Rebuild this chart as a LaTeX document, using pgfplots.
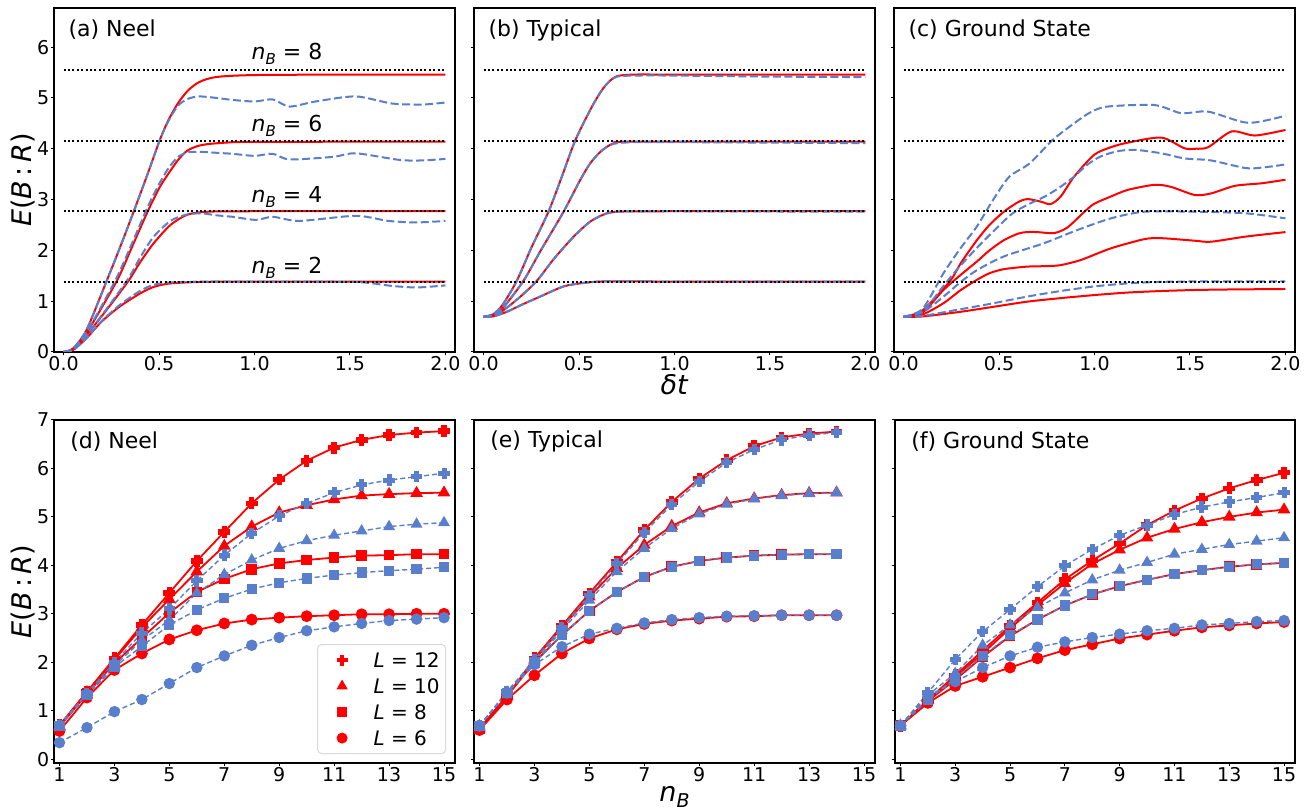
\documentclass[border=0pt]{standalone}
\usepackage{fontspec}
\setmainfont{DejaVu Sans}
\usepackage{pgfplots}
\usepackage{pgfplotstable}
\pgfplotsset{compat=1.18}
\definecolor{bl}{RGB}{88,126,204}
\definecolor{rd}{RGB}{255,0,0}

\pgfdeclareplotmark{fatplus}{%
  \pgfpathmoveto{\pgfpoint{-0.36\pgfplotmarksize}{\pgfplotmarksize}}%
  \pgfpathlineto{\pgfpoint{0.36\pgfplotmarksize}{\pgfplotmarksize}}%
  \pgfpathlineto{\pgfpoint{0.36\pgfplotmarksize}{0.36\pgfplotmarksize}}%
  \pgfpathlineto{\pgfpoint{\pgfplotmarksize}{0.36\pgfplotmarksize}}%
  \pgfpathlineto{\pgfpoint{\pgfplotmarksize}{-0.36\pgfplotmarksize}}%
  \pgfpathlineto{\pgfpoint{0.36\pgfplotmarksize}{-0.36\pgfplotmarksize}}%
  \pgfpathlineto{\pgfpoint{0.36\pgfplotmarksize}{-\pgfplotmarksize}}%
  \pgfpathlineto{\pgfpoint{-0.36\pgfplotmarksize}{-\pgfplotmarksize}}%
  \pgfpathlineto{\pgfpoint{-0.36\pgfplotmarksize}{-0.36\pgfplotmarksize}}%
  \pgfpathlineto{\pgfpoint{-\pgfplotmarksize}{-0.36\pgfplotmarksize}}%
  \pgfpathlineto{\pgfpoint{-\pgfplotmarksize}{0.36\pgfplotmarksize}}%
  \pgfpathlineto{\pgfpoint{-0.36\pgfplotmarksize}{0.36\pgfplotmarksize}}%
  \pgfpathclose
  \pgfusepathqfillstroke
}

% bottom-panel data: x, red L=12,10,8,6, blue L=12,10,8,6
\pgfplotstableread{
x R12 R10 R8 R6 B12 B10 B8 B6
1 0.70 0.68 0.67 0.58 0.70 0.69 0.68 0.34
2 1.39 1.38 1.35 1.27 1.36 1.33 1.32 0.65
3 2.08 2.05 1.98 1.84 2.00 1.93 1.90 0.98
4 2.77 2.72 2.50 2.18 2.60 2.45 2.33 1.23
5 3.43 3.30 3.02 2.47 3.10 2.87 2.77 1.56
6 4.09 3.87 3.45 2.66 3.68 3.43 3.08 1.89
7 4.69 4.40 3.72 2.80 4.21 3.81 3.32 2.13
8 5.28 4.80 3.92 2.88 4.66 4.11 3.51 2.35
9 5.77 5.09 4.04 2.92 5.02 4.35 3.64 2.51
10 6.16 5.24 4.11 2.95 5.28 4.51 3.73 2.65
11 6.43 5.36 4.16 2.97 5.50 4.62 3.80 2.73
12 6.59 5.44 4.20 2.99 5.66 4.71 3.85 2.80
13 6.69 5.47 4.21 2.99 5.76 4.80 3.89 2.86
14 6.74 5.49 4.23 3.00 5.83 4.85 3.92 2.89
15 6.77 5.50 4.23 3.00 5.90 4.88 3.96 2.92
}\tabD
\pgfplotstableread{
x R12 R10 R8 R6 B12 B10 B8 B6
1 0.63 0.63 0.63 0.60 0.69 0.69 0.69 0.68
2 1.29 1.30 1.30 1.23 1.39 1.38 1.37 1.36
3 2.08 2.05 2.00 1.73 2.05 2.00 1.98 1.95
4 2.75 2.72 2.56 2.18 2.72 2.66 2.56 2.32
5 3.42 3.35 3.06 2.49 3.38 3.28 3.06 2.58
6 4.07 3.94 3.45 2.68 4.03 3.87 3.45 2.70
7 4.73 4.42 3.76 2.79 4.68 4.35 3.76 2.81
8 5.31 4.81 3.97 2.86 5.25 4.76 3.97 2.88
9 5.79 5.09 4.09 2.90 5.73 5.06 4.09 2.92
10 6.17 5.28 4.16 2.94 6.12 5.26 4.16 2.95
11 6.46 5.38 4.20 2.95 6.39 5.37 4.20 2.96
12 6.64 5.45 4.22 2.97 6.59 5.44 4.22 2.97
13 6.72 5.49 4.23 2.97 6.69 5.48 4.23 2.97
14 6.76 5.50 4.23 2.97 6.74 5.50 4.23 2.97
}\tabE
\pgfplotstableread{
x R12 R10 R8 R6 B12 B10 B8 B6
1 0.69 0.69 0.69 0.69 0.69 0.69 0.69 0.69
2 1.22 1.22 1.20 1.16 1.37 1.32 1.22 1.30
3 1.73 1.70 1.64 1.51 2.06 1.77 1.67 1.60
4 2.24 2.18 2.11 1.70 2.63 2.35 2.13 1.89
5 2.75 2.70 2.54 1.89 3.09 2.77 2.56 2.13
6 3.23 3.18 2.88 2.08 3.56 3.13 2.88 2.31
7 3.71 3.63 3.17 2.25 3.99 3.43 3.17 2.42
8 4.10 4.03 3.40 2.37 4.33 3.70 3.40 2.51
9 4.45 4.32 3.57 2.49 4.62 3.90 3.57 2.58
10 4.83 4.57 3.70 2.57 4.83 4.06 3.70 2.65
11 5.13 4.75 3.82 2.65 5.05 4.23 3.82 2.70
12 5.38 4.89 3.90 2.72 5.20 4.33 3.90 2.77
13 5.59 5.00 3.97 2.76 5.31 4.43 3.97 2.80
14 5.76 5.09 4.02 2.80 5.40 4.50 4.02 2.84
15 5.91 5.15 4.05 2.83 5.50 4.57 4.05 2.86
}\tabF

\pgfplotsset{
  panel/.style={scale only axis, width=401pt, anchor=south west,
    axis line style={line width=2pt}, tick style={black, line width=1pt},
    major tick length=3.5pt, tick align=outside, tick pos=left,
    tick label style={font=\fontsize{19}{19}\selectfont, inner sep=1pt},
    /pgf/number format/assume math mode=true,
    every axis y label/.style={at={(axis description cs:-0.0773,0.5)}, rotate=90, anchor=center, font=\fontsize{27}{27}\selectfont},
    every axis x label/.style={at={(axis description cs:0.5,-0.096)}, anchor=center, font=\fontsize{27}{27}\selectfont}},
  toppanel/.style={panel, height=344pt, xmin=-0.05, xmax=2.05, ymin=0, ymax=6.77,
    xtick={0,0.5,1,1.5,2}, ytick={0,1,2,3,4,5,6},
    xticklabel style={/pgf/number format/fixed, /pgf/number format/fixed zerofill, /pgf/number format/precision=1}},
  botpanel/.style={panel, height=343pt, xmin=0.8, xmax=15.4, ymin=-0.08, ymax=7,
    xtick={1,3,5,7,9,11,13,15}, ytick={0,1,2,3,4,5,6,7}},
  rc/.style={rd, line width=2pt, smooth, tension=0.45},
  bc/.style={bl, line width=2pt, dash pattern=on 8pt off 3.5pt, smooth, tension=0.45},
  dotl/.style={black, line width=2pt, dash pattern=on 2pt off 2.4pt},
  rm/.style={rd, line width=1.8pt, mark size=5pt, mark options={solid, fill=rd}},
  bm/.style={bl, line width=1.4pt, dash pattern=on 5pt off 3pt, mark size=5pt, mark options={solid, fill=bl}},
}
\newcommand{\ttlfont}{\fontsize{22}{22}\selectfont}
\newcommand{\nB}[1]{\textit{n}\raisebox{-0.22em}{\fontsize{15}{15}\selectfont\textit{B}} = #1}

\begin{document}
\begin{tikzpicture}
\useasboundingbox (0,0) rectangle (1309pt,810pt);

% ---------------- (a) Neel ----------------
\begin{axis}[toppanel, at={(54pt,458pt)}, ylabel={\textit{E}(\textit{B}\,:\,\textit{R})}]
\addplot[rc] coordinates {(0,0) (0.05,0.07) (0.12,0.43) (0.226,1.40) (0.30,2.10) (0.367,2.76) (0.44,3.50) (0.504,4.17) (0.55,4.57) (0.60,4.90) (0.65,5.14) (0.70,5.29) (0.75,5.37) (0.82,5.42) (1.0,5.45) (1.5,5.46) (2.0,5.46)};
\addplot[rc] coordinates {(0,0) (0.05,0.06) (0.12,0.37) (0.279,1.40) (0.36,2.08) (0.44,2.76) (0.50,3.22) (0.542,3.47) (0.60,3.78) (0.647,3.96) (0.70,4.05) (0.753,4.09) (0.85,4.12) (1.0,4.135) (2.0,4.14)};
\addplot[rc] coordinates {(0,0) (0.05,0.05) (0.12,0.33) (0.23,0.85) (0.34,1.40) (0.40,1.76) (0.472,2.14) (0.56,2.50) (0.647,2.70) (0.753,2.76) (1.0,2.77) (2.0,2.77)};
\addplot[rc] coordinates {(0,0) (0.05,0.04) (0.12,0.27) (0.20,0.60) (0.296,0.90) (0.40,1.15) (0.472,1.28) (0.56,1.35) (0.735,1.38) (1.0,1.386) (2.0,1.386)};
\addplot[bc] coordinates {(0,0) (0.05,0.07) (0.12,0.43) (0.226,1.40) (0.30,2.10) (0.367,2.76) (0.44,3.50) (0.504,4.17) (0.55,4.55) (0.60,4.85) (0.65,4.98) (0.71,5.03) (0.80,5.00) (0.886,4.96) (1.0,4.93) (1.096,4.97) (1.183,4.83) (1.32,4.93) (1.53,5.03) (1.72,4.89) (1.88,4.87) (2.0,4.91)};
\addplot[bc] coordinates {(0,0) (0.05,0.06) (0.12,0.38) (0.27,1.40) (0.36,2.15) (0.44,2.85) (0.50,3.30) (0.55,3.62) (0.60,3.84) (0.65,3.93) (0.711,3.94) (0.80,3.92) (0.886,3.90) (1.0,3.86) (1.096,3.90) (1.183,3.79) (1.41,3.84) (1.53,3.91) (1.76,3.78) (1.88,3.77) (2.0,3.80)};
\addplot[bc] coordinates {(0,0) (0.05,0.05) (0.12,0.33) (0.23,0.87) (0.34,1.45) (0.40,1.85) (0.47,2.26) (0.56,2.58) (0.64,2.70) (0.72,2.73) (0.80,2.69) (0.886,2.66) (1.008,2.60) (1.096,2.66) (1.235,2.58) (1.53,2.68) (1.70,2.58) (1.85,2.55) (2.0,2.58)};
\addplot[bc] coordinates {(0,0) (0.05,0.04) (0.12,0.27) (0.20,0.61) (0.296,0.93) (0.40,1.20) (0.47,1.32) (0.56,1.37) (0.735,1.385) (1.0,1.386) (1.5,1.38) (1.62,1.35) (1.72,1.30) (1.85,1.27) (2.0,1.31)};
\addplot[dotl] coordinates {(0,5.545) (2,5.545)};
\addplot[dotl] coordinates {(0,4.159) (2,4.159)};
\addplot[dotl] coordinates {(0,2.773) (2,2.773)};
\addplot[dotl] coordinates {(0,1.386) (2,1.386)};
\node[anchor=west, font=\ttlfont] at (axis description cs:0.0274,0.936) {(a) Neel};
\node[font=\ttlfont] at (axis cs:1.17,5.87) {\nB{8}};
\node[font=\ttlfont] at (axis cs:1.17,4.45) {\nB{6}};
\node[font=\ttlfont] at (axis cs:1.17,3.05) {\nB{4}};
\node[font=\ttlfont] at (axis cs:1.17,1.65) {\nB{2}};
\end{axis}

% ---------------- (b) Typical ----------------
\begin{axis}[toppanel, at={(474pt,458pt)}, yticklabels={}, xlabel={\textit{δt}}]
\addplot[rc] coordinates {(0,0.693) (0.05,0.74) (0.10,0.93) (0.174,1.40) (0.25,2.05) (0.34,2.76) (0.41,3.45) (0.481,4.17) (0.568,4.83) (0.621,5.16) (0.66,5.33) (0.70,5.43) (0.79,5.46) (1.0,5.46) (2.0,5.46)};
\addplot[rc] coordinates {(0,0.693) (0.05,0.73) (0.10,0.86) (0.209,1.40) (0.30,2.0) (0.419,2.76) (0.507,3.39) (0.56,3.72) (0.612,3.94) (0.66,4.07) (0.70,4.12) (0.8,4.14) (2.0,4.14)};
\addplot[rc] coordinates {(0,0.693) (0.05,0.72) (0.10,0.81) (0.19,1.08) (0.279,1.40) (0.37,1.84) (0.472,2.27) (0.56,2.57) (0.647,2.73) (0.735,2.765) (1.0,2.77) (2.0,2.77)};
\addplot[rc] coordinates {(0,0.693) (0.05,0.70) (0.121,0.79) (0.2,0.93) (0.296,1.09) (0.419,1.29) (0.525,1.36) (0.647,1.39) (1.0,1.386) (2.0,1.386)};
\addplot[bc] coordinates {(0,0.693) (0.05,0.74) (0.10,0.93) (0.174,1.40) (0.25,2.05) (0.34,2.76) (0.41,3.45) (0.481,4.17) (0.568,4.83) (0.621,5.16) (0.66,5.33) (0.70,5.42) (0.79,5.44) (1.0,5.44) (1.5,5.42) (2.0,5.41)};
\addplot[bc] coordinates {(0,0.693) (0.05,0.73) (0.10,0.86) (0.209,1.40) (0.30,2.0) (0.419,2.76) (0.507,3.39) (0.56,3.72) (0.612,3.94) (0.66,4.07) (0.70,4.11) (0.8,4.13) (1.0,4.13) (2.0,4.11)};
\addplot[bc] coordinates {(0,0.693) (0.05,0.72) (0.10,0.81) (0.19,1.08) (0.279,1.40) (0.37,1.84) (0.472,2.27) (0.56,2.57) (0.647,2.73) (0.735,2.765) (1.0,2.77) (2.0,2.76)};
\addplot[bc] coordinates {(0,0.693) (0.05,0.70) (0.121,0.79) (0.2,0.93) (0.296,1.09) (0.419,1.29) (0.525,1.36) (0.647,1.39) (1.0,1.386) (2.0,1.386)};
\addplot[dotl] coordinates {(0,5.545) (2,5.545)};
\addplot[dotl] coordinates {(0,4.159) (2,4.159)};
\addplot[dotl] coordinates {(0,2.773) (2,2.773)};
\addplot[dotl] coordinates {(0,1.386) (2,1.386)};
\node[anchor=west, font=\ttlfont] at (axis description cs:0.0274,0.936) {(b) Typical};
\end{axis}

% ---------------- (c) Ground State ----------------
\begin{axis}[toppanel, at={(894pt,458pt)}, yticklabels={}]
\addplot[rc] coordinates {(0,0.693) (0.1,0.70) (0.296,0.79) (0.472,0.89) (0.647,0.99) (0.823,1.06) (0.998,1.12) (1.174,1.17) (1.35,1.20) (1.525,1.22) (1.70,1.23) (2.0,1.24)};
\addplot[rc] coordinates {(0,0.693) (0.1,0.74) (0.209,0.96) (0.30,1.22) (0.384,1.42) (0.45,1.55) (0.525,1.63) (0.647,1.68) (0.75,1.69) (0.823,1.71) (0.928,1.81) (1.086,2.04) (1.26,2.22) (1.35,2.24) (1.525,2.19) (1.61,2.17) (1.79,2.27) (2.0,2.36)};
\addplot[rc] coordinates {(0,0.693) (0.1,0.78) (0.209,1.22) (0.30,1.52) (0.384,1.78) (0.45,2.0) (0.525,2.20) (0.60,2.33) (0.647,2.36) (0.70,2.36) (0.788,2.34) (0.858,2.45) (0.95,2.77) (1.0,2.92) (1.086,3.06) (1.174,3.19) (1.314,3.29) (1.40,3.25) (1.525,3.09) (1.61,3.12) (1.735,3.27) (1.875,3.32) (2.0,3.39)};
\addplot[rc] coordinates {(0,0.693) (0.1,0.82) (0.244,1.40) (0.30,1.75) (0.384,2.20) (0.45,2.50) (0.525,2.76) (0.60,2.95) (0.647,3.01) (0.718,2.96) (0.77,2.91) (0.823,3.06) (0.893,3.45) (0.998,3.88) (1.086,4.03) (1.174,4.12) (1.35,4.22) (1.47,4.01) (1.53,4.0) (1.595,4.03) (1.718,4.34) (1.84,4.26) (2.0,4.37)};
\addplot[bc] coordinates {(0,0.693) (0.1,0.71) (0.296,0.84) (0.472,0.96) (0.647,1.09) (0.823,1.20) (0.998,1.29) (1.174,1.35) (1.35,1.38) (1.6,1.39) (2.0,1.39)};
\addplot[bc] coordinates {(0,0.693) (0.1,0.78) (0.209,1.09) (0.30,1.38) (0.384,1.61) (0.525,1.88) (0.735,2.14) (0.91,2.40) (1.086,2.63) (1.26,2.76) (1.525,2.76) (1.79,2.73) (2.0,2.63)};
\addplot[bc] coordinates {(0,0.693) (0.1,0.80) (0.209,1.30) (0.279,1.62) (0.384,2.05) (0.472,2.38) (0.568,2.72) (0.65,2.90) (0.735,3.05) (0.81,3.22) (0.893,3.45) (0.96,3.68) (1.033,3.85) (1.12,3.95) (1.21,3.98) (1.35,3.91) (1.47,3.81) (1.61,3.77) (1.79,3.62) (1.88,3.63) (2.0,3.69)};
\addplot[bc] coordinates {(0,0.693) (0.1,0.85) (0.209,1.55) (0.30,2.05) (0.384,2.47) (0.47,3.0) (0.554,3.45) (0.66,3.71) (0.78,4.17) (0.893,4.50) (0.98,4.72) (1.068,4.83) (1.314,4.86) (1.454,4.70) (1.595,4.73) (1.805,4.51) (2.0,4.65)};
\addplot[dotl] coordinates {(0,5.545) (2,5.545)};
\addplot[dotl] coordinates {(0,4.159) (2,4.159)};
\addplot[dotl] coordinates {(0,2.773) (2,2.773)};
\addplot[dotl] coordinates {(0,1.386) (2,1.386)};
\node[anchor=west, font=\ttlfont] at (axis description cs:0.0274,0.936) {(c) Ground State};
\end{axis}

% ---------------- (d) Neel ----------------
\begin{axis}[botpanel, at={(54pt,47pt)}, ylabel={\textit{E}(\textit{B}\,:\,\textit{R})},
  legend style={at={(0.978,0.026)}, anchor=south east, draw=black!15, line width=1pt,
    rounded corners=4pt, fill=white, font=\fontsize{20}{20}\selectfont,
    inner xsep=6pt, inner ysep=8pt, row sep=11pt, column sep=0pt,
    nodes={inner sep=0pt, text height=15pt, text depth=0pt}},
  legend cell align=left,
  legend image code/.code={\path (0pt,0pt) (49pt,0pt); \draw[sharp corners,#1] plot coordinates {(18pt,0pt)};}]
\addplot[rm, mark=fatplus, forget plot] table[x=x,y=R12] {\tabD};
\addplot[rm, mark=triangle*, mark size=5.5pt, forget plot] table[x=x,y=R10] {\tabD};
\addplot[rm, mark=square*, mark size=4.4pt, forget plot] table[x=x,y=R8] {\tabD};
\addplot[rm, mark=*, forget plot] table[x=x,y=R6] {\tabD};
\addplot[bm, mark=fatplus, forget plot] table[x=x,y=B12] {\tabD};
\addplot[bm, mark=triangle*, mark size=5.5pt, forget plot] table[x=x,y=B10] {\tabD};
\addplot[bm, mark=square*, mark size=4.4pt, forget plot] table[x=x,y=B8] {\tabD};
\addplot[bm, mark=*, forget plot] table[x=x,y=B6] {\tabD};
\addlegendimage{only marks, rd, mark=fatplus, mark size=5pt, mark options={fill=rd}}
\addlegendentry{\textit{L} = 12}
\addlegendimage{only marks, rd, mark=triangle*, mark size=5.5pt, mark options={fill=rd}}
\addlegendentry{\textit{L} = 10}
\addlegendimage{only marks, rd, mark=square*, mark size=4.4pt, mark options={fill=rd}}
\addlegendentry{\textit{L} = 8}
\addlegendimage{only marks, rd, mark=*, mark size=5pt, mark options={fill=rd}}
\addlegendentry{\textit{L} = 6}
\node[anchor=west, font=\ttlfont] at (axis description cs:0.032,0.937) {(d) Neel};
\end{axis}

% ---------------- (e) Typical ----------------
\begin{axis}[botpanel, at={(474pt,47pt)}, yticklabels={},
  every axis x label/.style={at={(axis description cs:0.5,-0.1)}, anchor=center, font=\fontsize{27}{27}\selectfont},
  xlabel={\textit{n}\raisebox{-0.22em}{\fontsize{19}{19}\selectfont\textit{B}}}]
\addplot[rm, mark=fatplus] table[x=x,y=R12] {\tabE};
\addplot[rm, mark=triangle*, mark size=5.5pt] table[x=x,y=R10] {\tabE};
\addplot[rm, mark=square*, mark size=4.4pt] table[x=x,y=R8] {\tabE};
\addplot[rm, mark=*] table[x=x,y=R6] {\tabE};
\addplot[bm, mark=fatplus] table[x=x,y=B12] {\tabE};
\addplot[bm, mark=triangle*, mark size=5.5pt] table[x=x,y=B10] {\tabE};
\addplot[bm, mark=square*, mark size=4.4pt] table[x=x,y=B8] {\tabE};
\addplot[bm, mark=*] table[x=x,y=B6] {\tabE};
\node[anchor=west, font=\ttlfont] at (axis description cs:0.032,0.937) {(e) Typical};
\end{axis}

% ---------------- (f) Ground State ----------------
\begin{axis}[botpanel, at={(895pt,47pt)}, width=400pt, yticklabels={}]
\addplot[rm, mark=fatplus] table[x=x,y=R12] {\tabF};
\addplot[rm, mark=triangle*, mark size=5.5pt] table[x=x,y=R10] {\tabF};
\addplot[rm, mark=square*, mark size=4.4pt] table[x=x,y=R8] {\tabF};
\addplot[rm, mark=*] table[x=x,y=R6] {\tabF};
\addplot[bm, mark=fatplus] table[x=x,y=B12] {\tabF};
\addplot[bm, mark=triangle*, mark size=5.5pt] table[x=x,y=B10] {\tabF};
\addplot[bm, mark=square*, mark size=4.4pt] table[x=x,y=B8] {\tabF};
\addplot[bm, mark=*] table[x=x,y=B6] {\tabF};
\node[anchor=west, font=\ttlfont] at (axis description cs:0.032,0.937) {(f) Ground State};
\end{axis}
\end{tikzpicture}
\end{document}
